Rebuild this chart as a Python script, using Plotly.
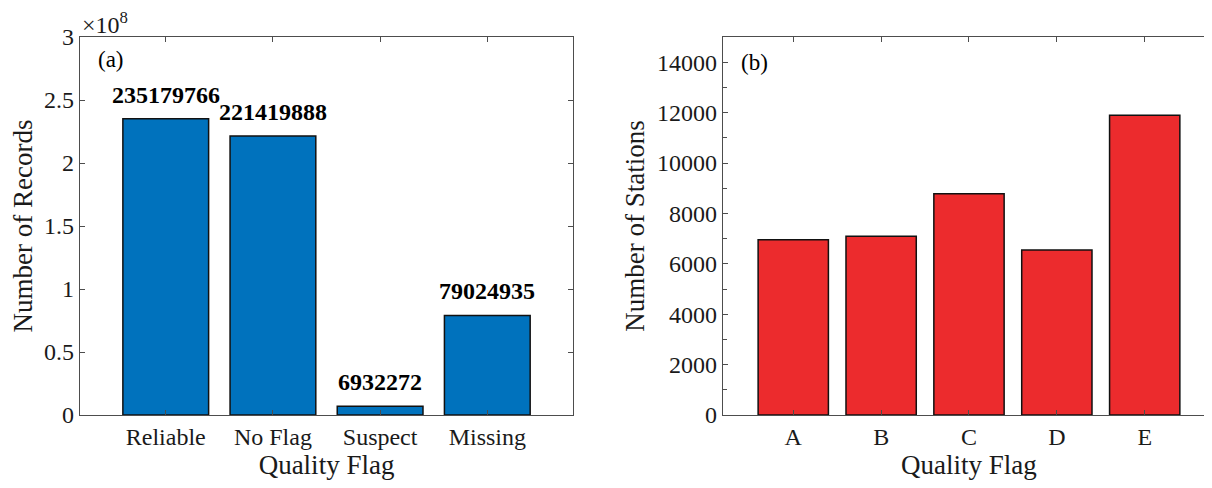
import plotly.graph_objects as go

# ---- data ----
records_categories = ["Reliable", "No Flag", "Suspect", "Missing"]
records_values = [235179766, 221419888, 6932272, 79024935]

station_categories = ["A", "B", "C", "D", "E"]
station_values = [6950, 7090, 8780, 6550, 11890]

records_tickvals = [0, 0.5e8, 1.0e8, 1.5e8, 2.0e8, 2.5e8, 3.0e8]
records_ticktext = ["0", "0.5", "1", "1.5", "2", "2.5", "3"]
station_tickvals = [0, 2000, 4000, 6000, 8000, 10000, 12000, 14000]
station_minor = list(range(0, 15001, 1000))

FONT = "Liberation Serif"
TXT = "#1a1a1a"
AX = "#4d4d4d"
BLUE = "#0072BD"
RED = "#EC2B2D"

fig = go.Figure()

fig.add_trace(go.Bar(
    x=records_categories, y=records_values, xaxis="x", yaxis="y",
    marker=dict(color=BLUE, line=dict(color="#111111", width=1.5)),
    width=0.8, showlegend=False, hoverinfo="skip",
))
fig.add_trace(go.Bar(
    x=station_categories, y=station_values, xaxis="x2", yaxis="y2",
    marker=dict(color=RED, line=dict(color="#111111", width=1.5)),
    width=0.8, showlegend=False, hoverinfo="skip",
))

annotations = []
for c, v in zip(records_categories, records_values):
    annotations.append(dict(
        x=c, y=v, xref="x", yref="y", text=f"<b>{v}</b>", showarrow=False,
        yanchor="bottom", yshift=9, font=dict(family=FONT, size=24, color="#000000"),
    ))
annotations += [
    dict(x=0.0, y=1.0, xref="x domain", yref="y domain", text="×10<sup>8</sup>",
         showarrow=False, xanchor="left", yanchor="bottom", yshift=-3,
         font=dict(family=FONT, size=24, color=TXT)),
    dict(x=0.063, y=0.94, xref="x domain", yref="y domain", text="(a)",
         showarrow=False, xanchor="center", yanchor="middle",
         font=dict(family=FONT, size=23, color="#000000")),
    dict(x=0.065, y=0.932, xref="x2 domain", yref="y2 domain", text="(b)",
         showarrow=False, xanchor="center", yanchor="middle",
         font=dict(family=FONT, size=23, color="#000000")),
]

tickfont = dict(family=FONT, size=24, color=TXT)
titlefont = dict(family=FONT, size=27, color=TXT)

common_x = dict(
    type="category", ticks="inside", ticklen=5, tickcolor=AX, tickwidth=1,
    showline=True, linecolor=AX, linewidth=1.2, mirror="ticks",
    showgrid=False, zeroline=False, tickfont=tickfont, automargin=False,
    title=dict(text="Quality Flag", font=titlefont, standoff=3),
)

# the page body has an 8px margin, so margins are offset by 8px
fig.update_layout(
    width=1212, height=488,
    margin=dict(l=72, r=5, t=29, b=81),
    plot_bgcolor="white", paper_bgcolor="white",
    xaxis=dict(domain=[0, 0.4344], range=[-0.8, 3.8], anchor="y", **common_x),
    yaxis=dict(
        domain=[0, 1], range=[0, 3e8], anchor="x",
        tickvals=records_tickvals, ticktext=records_ticktext,
        ticks="inside", ticklen=5, tickcolor=AX,
        showline=True, linecolor=AX, linewidth=1.2, mirror="ticks",
        showgrid=False, zeroline=False, tickfont=tickfont, automargin=False,
        title=dict(text="Number of Records", font=titlefont, standoff=4),
    ),
    xaxis2=dict(domain=[0.5665, 1], range=[-0.8, 4.8], anchor="y2", **common_x),
    yaxis2=dict(
        domain=[0, 1], range=[0, 15000], anchor="x2",
        tickvals=station_tickvals, tickformat="d",
        ticks="inside", ticklen=5, tickcolor=AX,
        minor=dict(tickvals=station_minor, ticks="inside", ticklen=4, tickcolor=AX),
        showline=True, linecolor=AX, linewidth=1.2, mirror="ticks",
        showgrid=False, zeroline=False, tickfont=tickfont, automargin=False,
        title=dict(text="Number of Stations", font=titlefont, standoff=4),
    ),
    annotations=annotations,
)

fig.write_html("out.html")
